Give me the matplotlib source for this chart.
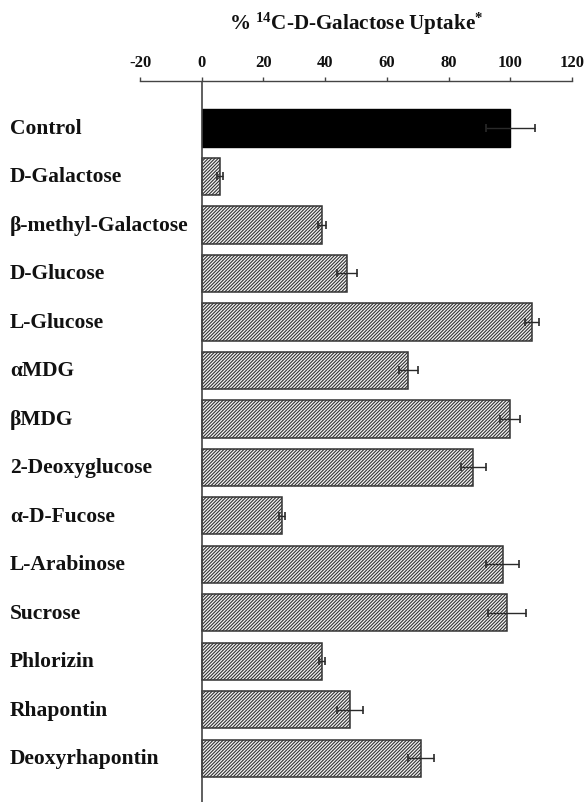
import matplotlib
matplotlib.use("Agg")
import matplotlib.pyplot as plt
import matplotlib.transforms as mtransforms

plt.rcParams['font.family'] = ['Liberation Serif', 'DejaVu Serif']
plt.rcParams['font.weight'] = 'bold'
plt.rcParams['mathtext.fontset'] = 'custom'
plt.rcParams['mathtext.rm'] = 'Liberation Serif:bold'
plt.rcParams['mathtext.bf'] = 'Liberation Serif:bold'
plt.rcParams['mathtext.default'] = 'rm'
plt.rcParams['hatch.linewidth'] = 0.8
plt.rcParams['hatch.color'] = '#3c3c3c'

# Competing sugars / inhibitors and the resulting galactose uptake (% of control)
categories = ["Control", "D-Galactose", "β-methyl-Galactose", "D-Glucose",
              "L-Glucose", "αMDG", "βMDG", "2-Deoxyglucose", "α-D-Fucose",
              "L-Arabinose", "Sucrose", "Phlorizin", "Rhapontin",
              "Deoxyrhapontin"]
uptake = [100, 6, 39, 47, 107, 67, 100, 88, 26, 97.5, 99, 39, 48, 71]
errors = [8, 1, 1.2, 3.2, 2.2, 3.2, 3.2, 4.1, 1.1, 5.3, 6.1, 1.1, 4.2, 4.3]
xticks = [-20, 0, 20, 40, 60, 80, 100, 120]

W, H = 585, 803
fig = plt.figure(figsize=(W / 100, H / 100), dpi=100)
ax_left, ax_right = 140, 572
ax_top = 81.7
ax = fig.add_axes([ax_left / W, 0, (ax_right - ax_left) / W, (H - ax_top) / H])

for i, (v, e) in enumerate(zip(uptake, errors)):
    if i == 0:
        ax.barh(i, v, height=0.77, color='black', edgecolor='black', linewidth=1, zorder=2)
    else:
        ax.barh(i, v, height=0.77, color='#f4f4f4', edgecolor='#333333',
                hatch='//////////', linewidth=1.1, zorder=2)
    ax.errorbar(v, i, xerr=e, fmt='none', ecolor='#2a2a2a', elinewidth=1,
                capsize=3.2, capthick=1.2, zorder=3)

ax.set_xlim(-20, 120)
ax.set_ylim(13.903, -0.976)
ax.xaxis.set_ticks_position('top')
ax.xaxis.set_label_position('top')
ax.set_xticks(xticks)
ax.set_xticklabels([str(t) for t in xticks], fontsize=12, fontweight='bold')
ax.tick_params(axis='x', direction='out', length=3, width=1, pad=5,
               colors='#444444', labelcolor='#111111')
ax.set_yticks([])
for s in ['left', 'right', 'bottom']:
    ax.spines[s].set_visible(False)
ax.spines['top'].set_color('#444444')
ax.spines['top'].set_linewidth(1)

# zero line running down the whole plot
ax.axvline(0, color='#444444', linewidth=1.2, zorder=4)

# category labels, left aligned at the figure edge
trans = mtransforms.blended_transform_factory(fig.transFigure, ax.transData)
for i, name in enumerate(categories):
    ax.text(10 / W, i, name, transform=trans, ha='left', va='center',
            fontsize=15.5, fontweight='bold', color='#111111')

fig.text((ax_left + ax_right) / 2 / W, 1 - 24 / H,
         r'% $^{14}$C-D-Galactose Uptake$^{*}$',
         ha='center', va='center', fontsize=15.2, fontweight='bold', color='#111111')

fig.savefig('out.png', dpi=100)
